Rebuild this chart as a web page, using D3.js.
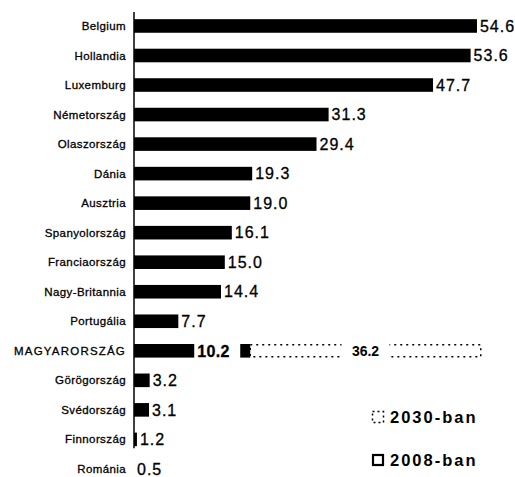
<!DOCTYPE html>
<html>
<head>
<meta charset="utf-8">
<script src="https://cdn.jsdelivr.net/npm/d3@7"></script>
<style>
	body { margin: 0; background: #fff; }
	svg { display: block; font-family: 'Liberation Sans', Arial, sans-serif; }
</style>
</head>
<body>
<div id="chart"></div>
<script>
const countries = ['Belgium', 'Hollandia', 'Luxemburg', 'Németország', 'Olaszország', 'Dánia', 'Ausztria',
	'Spanyolország', 'Franciaország', 'Nagy-Britannia', 'Portugália', 'MAGYARORSZÁG', 'Görögország',
	'Svédország', 'Finnország', 'Románia'];
const values2008 = [54.6, 53.6, 47.7, 31.3, 29.4, 19.3, 19.0, 16.1, 15.0, 14.4, 7.7, 10.2, 3.2, 3.1, 1.2, 0.5];
const highlight = 'MAGYARORSZÁG';
const value2030 = 36.2;
const legendLabels = ['2030-ban', '2008-ban'];

const width = 515, height = 477;
const axisX = 134;

const svg = d3.select('#chart')
	.append('svg')
	.attr('width', width)
	.attr('height', height);

// bars start a little above zero, so the smallest value gets no bar
const x = d3.scaleLinear()
	.domain([0.74, 55])
	.range([axisX, axisX + 54.26 * 6.368]);

const y = d3.scaleBand()
	.domain(countries)
	.range([11.2, 11.2 + countries.length * 29.53])
	.paddingInner(0.54)
	.paddingOuter(0.27);

const fmt = d3.format('.1f');
const rows = countries.map((c, i) => ({ name: c, value: values2008[i] }));

// category labels
svg.selectAll('text.cat')
	.data(rows)
	.join('text')
	.attr('class', 'cat')
	.attr('x', 126)
	.attr('y', d => y(d.name) + y.bandwidth() / 2)
	.attr('dy', '0.35em')
	.attr('text-anchor', 'end')
	.attr('font-size', 11.5)
	.attr('letter-spacing', d => d.name === highlight ? 1.2 : 0.4)
	.attr('stroke', '#000')
	.attr('stroke-width', 0.3)
	.text(d => d.name);

// 2008 bars
svg.selectAll('rect.bar')
	.data(rows)
	.join('rect')
	.attr('class', 'bar')
	.attr('x', axisX)
	.attr('y', d => y(d.name))
	.attr('width', d => Math.max(0, x(d.value) - axisX))
	.attr('height', y.bandwidth())
	.attr('fill', '#000');

// value labels
svg.selectAll('text.val')
	.data(rows)
	.join('text')
	.attr('class', 'val')
	.attr('x', d => Math.max(x(d.value), axisX) + 3)
	.attr('y', d => y(d.name) + y.bandwidth() / 2)
	.attr('dy', '0.36em')
	.attr('font-size', 16)
	.attr('letter-spacing', d => d.name === highlight ? 0.3 : 1)
	.attr('font-weight', d => d.name === highlight ? 'bold' : 'normal')
	.attr('stroke', '#000')
	.attr('stroke-width', 0.3)
	.text(d => fmt(d.value));

// axis line
svg.append('line')
	.attr('x1', axisX).attr('x2', axisX)
	.attr('y1', 12)
	.attr('y2', y('Finnország') + y.bandwidth() + 2)
	.attr('stroke', '#000')
	.attr('stroke-width', 1.5);

// Hungary 2030 projection, drawn after the 2008 label
const hu = values2008[countries.indexOf(highlight)];
const start2030 = x(hu) + 46;
const capW = 10;
const len2030 = x(value2030) - x(0);
const yHu = y(highlight);

svg.append('rect')
	.attr('x', start2030)
	.attr('y', yHu)
	.attr('width', capW)
	.attr('height', y.bandwidth())
	.attr('fill', '#000');

svg.append('rect')
	.attr('x', start2030 + capW)
	.attr('y', yHu + 0.75)
	.attr('width', len2030)
	.attr('height', y.bandwidth() - 1.5)
	.attr('fill', 'none')
	.attr('stroke', '#000')
	.attr('stroke-width', 1.5)
	.attr('stroke-dasharray', '2,4');

const mid2030 = start2030 + capW + len2030 / 2;
svg.append('rect')
	.attr('x', mid2030 - 24)
	.attr('y', yHu - 2)
	.attr('width', 48)
	.attr('height', y.bandwidth() + 4)
	.attr('fill', '#fff');

svg.append('text')
	.attr('x', mid2030)
	.attr('y', yHu + y.bandwidth() / 2)
	.attr('dy', '0.36em')
	.attr('text-anchor', 'middle')
	.attr('font-size', 14)
	.attr('font-weight', 'bold')
	.text(fmt(value2030));

// legend
const legend = svg.append('g').attr('transform', 'translate(372,0)');
const legY = [417, 460];

legend.append('rect')
	.attr('x', 0.5).attr('y', legY[0] - 5.5)
	.attr('width', 11).attr('height', 11)
	.attr('fill', 'none')
	.attr('stroke', '#000')
	.attr('stroke-width', 1.5)
	.attr('stroke-dasharray', '2,3');

legend.append('rect')
	.attr('x', 1).attr('y', legY[1] - 5)
	.attr('width', 10).attr('height', 10)
	.attr('fill', '#fff')
	.attr('stroke', '#000')
	.attr('stroke-width', 2.2);

legend.selectAll('text')
	.data(legendLabels)
	.join('text')
	.attr('x', 18)
	.attr('y', (d, i) => legY[i])
	.attr('dy', '0.36em')
	.attr('font-size', 16.5)
	.attr('font-weight', 'bold')
	.attr('letter-spacing', 2)
	.text(d => d);
</script>
</body>
</html>
